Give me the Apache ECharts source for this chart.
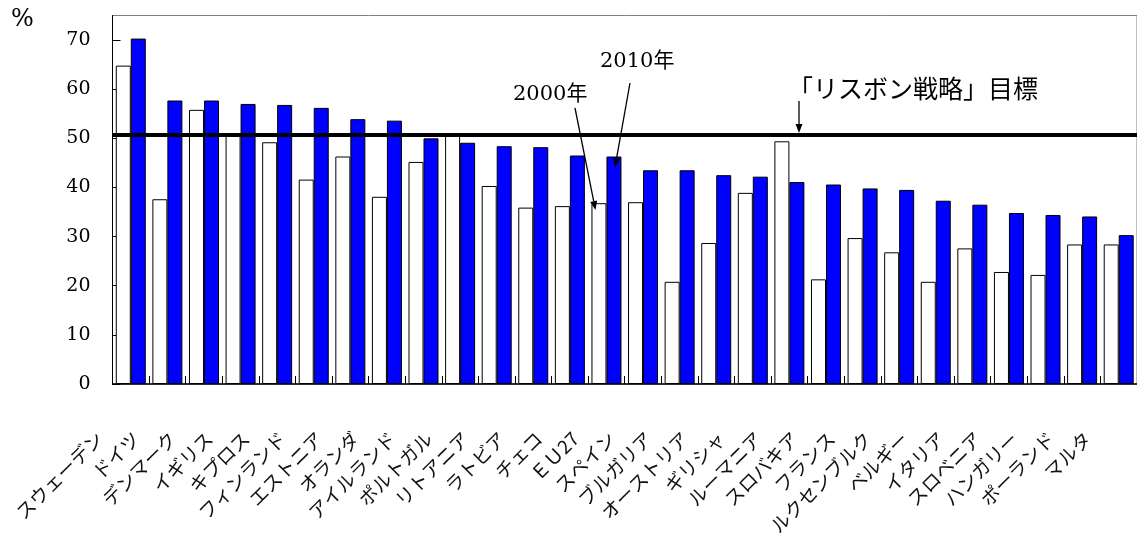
<!DOCTYPE html>
<html>
<head>
<meta charset="utf-8">
<script src="https://cdn.jsdelivr.net/npm/echarts@6/dist/echarts.min.js"></script>
<style>
html,body{margin:0;padding:0;background:#fff;}
#chart{width:1137px;height:550px;}
</style>
</head>
<body>
<div id="chart"></div>
<script>
const categories = ['スウェーデン','ドイツ','デンマーク','イギリス','キプロス','フィンランド','エストニア','オランダ','アイルランド','ポルトガル','リトアニア','ラトビア','チェコ','ＥＵ27','スペイン','ブルガリア','オーストリア','ギリシャ','ルーマニア','スロバキア','フランス','ルクセンブルク','ベルギー','イタリア','スロベニア','ハンガリー','ポーランド','マルタ'];
const values2000 = [64.8, 37.6, 55.8, 50.7, 49.2, 41.6, 46.3, 38.1, 45.2, 50.7, 40.3, 35.9, 36.2, 36.8, 37.0, 20.8, 28.7, 38.9, 49.4, 21.3, 29.7, 26.8, 20.8, 27.6, 22.8, 22.2, 28.4, 28.4];
const values2010 = [70.3, 57.7, 57.7, 57.0, 56.8, 56.2, 53.9, 53.6, 50.0, 49.1, 48.4, 48.2, 46.5, 46.3, 43.5, 43.5, 42.5, 42.2, 41.1, 40.6, 39.8, 39.5, 37.3, 36.5, 34.8, 34.4, 34.1, 30.3];
const lisbonTarget = 50.7;
const yTicks = [0, 10, 20, 30, 40, 50, 60, 70];
const seriesNames = ['2000年', '2010年'];
const targetLabel = '「リスボン戦略」目標';
// arrow tip values pointing at the EU27 bars
const arrowCategory = 'ＥＵ27';
const arrowTipValues = [35.4, 44.1];

const chart = echarts.init(document.getElementById('chart'), null, {renderer: 'canvas'});
const serif = '"DejaVu Serif", "Noto Sans CJK JP", serif';

const option = {
  animation: false,
  backgroundColor: '#fff',
  grid: {
    left: 112.5, right: -4, top: 15.5, bottom: 166,
    show: true, borderColor: '#808080', borderWidth: 1, backgroundColor: 'transparent'
  },
  xAxis: {
    type: 'category',
    data: categories,
    boundaryGap: true,
    axisLine: {lineStyle: {color: '#000', width: 1.5}},
    axisTick: {show: true, inside: true, length: 8, lineStyle: {color: '#000', width: 1}},
    axisLabel: {
      interval: 0, rotate: 45, margin: 20,
      fontFamily: '"Noto Sans CJK JP", sans-serif', fontSize: 19, color: '#111',
      padding: [0, 44, 0, 0]
    },
    splitLine: {show: false}
  },
  yAxis: {
    type: 'value', min: 0, max: 75, interval: 10,
    axisLine: {show: true, lineStyle: {color: '#000', width: 1}},
    axisTick: {show: true, inside: true, length: 8, lineStyle: {color: '#000'}},
    axisLabel: {
      showMaxLabel: false, margin: 22,
      fontFamily: serif, fontSize: 19, color: '#000',
      formatter: v => (yTicks.indexOf(v) >= 0 ? String(v) : '')
    },
    splitLine: {show: false}
  },
  series: [
    {
      name: seriesNames[0], type: 'bar', data: values2000,
      barWidth: 15, barGap: '0%',
      itemStyle: {color: '#fff', borderColor: '#000', borderWidth: 1}
    },
    {
      name: seriesNames[1], type: 'bar', data: values2010,
      barWidth: 15, barGap: '0%',
      itemStyle: {color: '#0000ff', borderColor: '#000', borderWidth: 1},
      markLine: {
        silent: true, symbol: ['none', 'none'],
        label: {show: false},
        lineStyle: {color: '#000', width: 4, type: 'solid'},
        data: [{yAxis: lisbonTarget}]
      }
    }
  ]
};
chart.setOption(option);

function arrow(x1, y1, x2, y2) {
  const ang = Math.atan2(y2 - y1, x2 - x1);
  const L = 9, W = 3.5;
  const bx = x2 - L * Math.cos(ang), by = y2 - L * Math.sin(ang);
  const px = -Math.sin(ang) * W, py = Math.cos(ang) * W;
  return [
    {type: 'line', shape: {x1: x1, y1: y1, x2: bx, y2: by}, style: {stroke: '#000', lineWidth: 1.3}, z: 100},
    {type: 'polygon', shape: {points: [[x2, y2], [bx + px, by + py], [bx - px, by - py]]}, style: {fill: '#000'}, z: 100}
  ];
}

const p2000 = chart.convertToPixel({xAxisIndex: 0, yAxisIndex: 0}, [arrowCategory, arrowTipValues[0]]);
const p2010 = chart.convertToPixel({xAxisIndex: 0, yAxisIndex: 0}, [arrowCategory, arrowTipValues[1]]);
const pTarget = chart.convertToPixel({yAxisIndex: 0}, lisbonTarget);

const graphics = [
  {type: 'text', left: 11, top: 8, style: {text: '%', font: '24px ' + serif, fill: '#000'}},
  {type: 'text', x: 513, y: 95, style: {text: seriesNames[0], font: '21px ' + serif, fill: '#000', textVerticalAlign: 'middle'}, z: 100},
  {type: 'text', x: 600, y: 62, style: {text: seriesNames[1], font: '21px ' + serif, fill: '#000', textVerticalAlign: 'middle'}, z: 100},
  {type: 'text', x: 788, y: 88, style: {text: targetLabel, font: '25px "Noto Sans CJK JP", sans-serif', fill: '#000', textVerticalAlign: 'middle'}, z: 100}
].concat(
  arrow(575, 108, p2000[0] - 11, p2000[1]),
  arrow(630, 83, p2010[0] + 8.5, p2010[1]),
  arrow(799, 101, 799, pTarget - 2)
);
chart.setOption({graphic: graphics});
</script>
</body>
</html>
